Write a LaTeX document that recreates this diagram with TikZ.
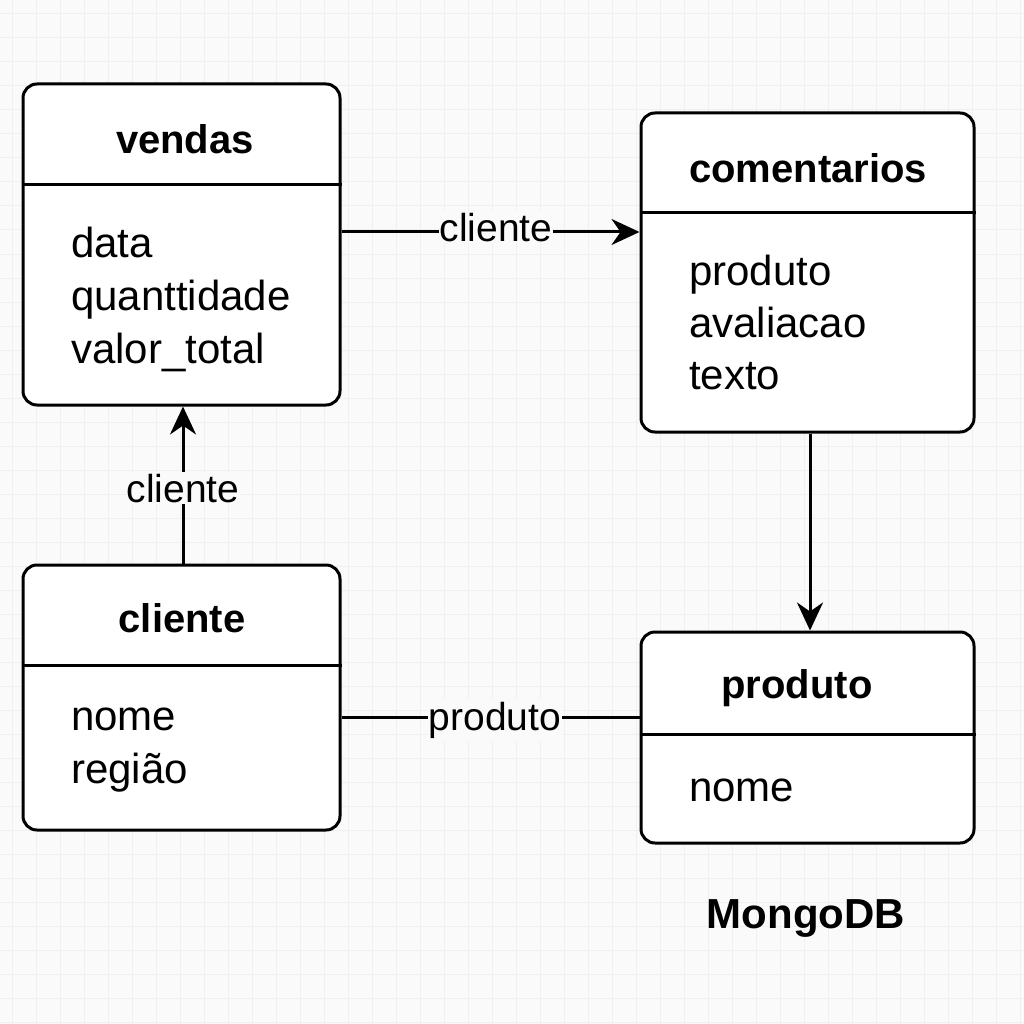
\documentclass[tikz,border=0pt]{standalone}
\usepackage{fontspec}
\setmainfont{Liberation Sans}
\usetikzlibrary{arrows.meta}
\definecolor{bgc}{HTML}{FAFAFA}
\definecolor{gridc}{HTML}{F0F0F0}
\tikzset{
  box/.style={draw=black, line width=3pt, rounded corners=14pt, fill=white, inner sep=0pt},
  divider/.style={draw=black, line width=3pt},
  ttl/.style={font=\fontsize{40}{48}\selectfont\bfseries, anchor=base, inner sep=0pt},
  fld/.style={font=\fontsize{42}{50}\selectfont, anchor=base west, inner sep=0pt},
  lbl/.style={font=\fontsize{39}{46}\selectfont, anchor=base, fill=bgc, inner xsep=1pt, inner ysep=2pt},
  conn/.style={draw=black, line width=3pt},
  arr/.style={conn, -{Stealth[length=28pt, width=26pt, inset=9pt]}},
}
\begin{document}
\begin{tikzpicture}[x=1pt, y=-1pt]
\useasboundingbox (0,0) rectangle (1024,1024);
\fill[bgc] (0,0) rectangle (1024,1024);
\foreach \x in {12,36,...,1020} \draw[gridc, line width=1pt] (\x,0) -- (\x,1024);
\foreach \y in {14,38,...,1022} \draw[gridc, line width=1pt] (0,\y) -- (1024,\y);

% boxes
\node[box, minimum width=317pt, minimum height=321pt] (vendas) at (181.5,244.5) {};
\node[box, minimum width=333pt, minimum height=319pt] (coment) at (807.5,272.5) {};
\node[box, minimum width=317pt, minimum height=265pt] (cliente) at (181.5,697.5) {};
\node[box, minimum width=333pt, minimum height=211pt] (produto) at (807.5,737.5) {};

% dividers
\draw[divider] (vendas.west |- 0,185) -- (vendas.east |- 0,185);
\draw[divider] (coment.west |- 0,213) -- (coment.east |- 0,213);
\draw[divider] (cliente.west |- 0,665) -- (cliente.east |- 0,665);
\draw[divider] (produto.west |- 0,734) -- (produto.east |- 0,734);

% titles
\node[ttl] (tvendas) at (185,154) {vendas};
\node[ttl] (tcoment) at (808,183) {comentarios};
\node[ttl] (tcliente) at (182,632) {cliente};
\node[ttl] (tproduto) at (797,698) {produto};

% fields
\node[fld] (f1) at (71,257) {data};
\node[fld] (f2) at (71,310) {quanttidade};
\node[fld] (f3) at (71,363) {valor\_total};
\node[fld] (f4) at (689,285) {produto};
\node[fld] (f5) at (689,337) {avaliacao};
\node[fld] (f6) at (689,389) {texto};
\node[fld] (f7) at (71,730) {nome};
\node[fld] (f8) at (71,783) {região};
\node[fld] (f9) at (689,801) {nome};

% connectors
\draw[arr] (vendas.east |- 0,232) -- (coment.west |- 0,232);
\draw[arr] (cliente.north -| 183,0) -- (vendas.south -| 183,0);
\draw[arr] (coment.south -| 810,0) -- (produto.north -| 810,0);
\draw[conn] (cliente.east |- 0,717) -- (produto.west |- 0,717);

% connector labels
\node[lbl] (l1) at (496,241) {cliente};
\node[lbl] (l2) at (183,502) {cliente};
\node[lbl] (l3) at (495,730) {produto};

% caption
\node[font=\fontsize{42}{50}\selectfont\bfseries, anchor=base, inner sep=0pt] (mongo) at (806,928) {MongoDB};
\end{tikzpicture}
\end{document}
